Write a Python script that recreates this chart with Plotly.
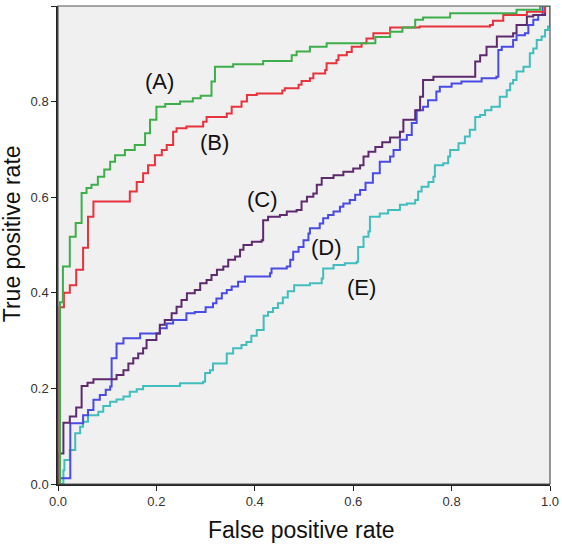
import plotly.graph_objects as go

# ROC curves: each point = (fpr where the step rises, tpr after the rise)
a_fpr = [0, 0.004, 0.010, 0.024, 0.036, 0.048, 0.058, 0.068, 0.081, 0.094, 0.106, 0.116, 0.136, 0.156, 0.177, 0.187, 0.200, 0.218, 0.248, 0.274, 0.290, 0.312, 0.319, 0.356, 0.417, 0.475, 0.485, 0.512, 0.546, 0.645, 0.675, 0.700, 0.726, 0.742, 0.797, 0.932, 0.980, 1.0]
a_tpr = [0, 0.380, 0.455, 0.517, 0.546, 0.609, 0.619, 0.626, 0.643, 0.658, 0.674, 0.688, 0.699, 0.709, 0.734, 0.762, 0.789, 0.795, 0.800, 0.807, 0.812, 0.842, 0.873, 0.878, 0.885, 0.897, 0.905, 0.915, 0.922, 0.935, 0.946, 0.955, 0.971, 0.976, 0.985, 0.992, 1.0, 1.0]

b_fpr = [0, 0.003, 0.012, 0.024, 0.037, 0.051, 0.061, 0.072, 0.146, 0.160, 0.173, 0.183, 0.197, 0.211, 0.221, 0.234, 0.241, 0.261, 0.295, 0.302, 0.343, 0.353, 0.373, 0.384, 0.404, 0.456, 0.461, 0.489, 0.495, 0.512, 0.519, 0.543, 0.546, 0.566, 0.570, 0.587, 0.597, 0.617, 0.627, 0.641, 0.675, 0.735, 0.878, 0.884, 0.905, 0.953, 0.990, 1.0]
b_tpr = [0, 0.370, 0.400, 0.416, 0.448, 0.494, 0.559, 0.591, 0.612, 0.632, 0.650, 0.667, 0.688, 0.699, 0.709, 0.737, 0.744, 0.748, 0.758, 0.768, 0.775, 0.789, 0.800, 0.814, 0.817, 0.823, 0.828, 0.835, 0.843, 0.849, 0.859, 0.866, 0.880, 0.887, 0.897, 0.904, 0.915, 0.922, 0.932, 0.943, 0.955, 0.957, 0.960, 0.969, 0.981, 0.988, 1.0, 1.0]

c_fpr = [0, 0.003, 0.011, 0.024, 0.037, 0.048, 0.060, 0.072, 0.119, 0.133, 0.143, 0.153, 0.163, 0.173, 0.180, 0.200, 0.207, 0.217, 0.231, 0.241, 0.251, 0.262, 0.278, 0.289, 0.302, 0.312, 0.323, 0.336, 0.346, 0.360, 0.370, 0.377, 0.394, 0.414, 0.417, 0.427, 0.451, 0.465, 0.485, 0.495, 0.506, 0.519, 0.526, 0.536, 0.560, 0.580, 0.600, 0.614, 0.621, 0.631, 0.645, 0.659, 0.675, 0.695, 0.702, 0.726, 0.736, 0.742, 0.763, 0.848, 0.858, 0.871, 0.892, 0.925, 0.932, 0.953, 0.966, 0.990, 1.0]
c_tpr = [0, 0.064, 0.128, 0.141, 0.160, 0.205, 0.212, 0.219, 0.228, 0.238, 0.252, 0.263, 0.273, 0.284, 0.301, 0.315, 0.333, 0.343, 0.357, 0.371, 0.385, 0.399, 0.406, 0.420, 0.427, 0.437, 0.448, 0.455, 0.469, 0.476, 0.490, 0.500, 0.507, 0.510, 0.552, 0.559, 0.563, 0.570, 0.573, 0.591, 0.601, 0.608, 0.626, 0.640, 0.646, 0.653, 0.660, 0.667, 0.685, 0.695, 0.705, 0.715, 0.725, 0.737, 0.762, 0.782, 0.810, 0.845, 0.852, 0.884, 0.897, 0.915, 0.936, 0.943, 0.960, 0.978, 0.981, 1.0, 1.0]

d_fpr = [0, 0.003, 0.025, 0.051, 0.061, 0.072, 0.085, 0.097, 0.106, 0.109, 0.119, 0.133, 0.167, 0.207, 0.221, 0.234, 0.261, 0.278, 0.300, 0.315, 0.322, 0.333, 0.343, 0.353, 0.366, 0.380, 0.431, 0.434, 0.465, 0.472, 0.478, 0.489, 0.499, 0.509, 0.512, 0.532, 0.539, 0.549, 0.560, 0.573, 0.580, 0.593, 0.604, 0.614, 0.625, 0.640, 0.654, 0.675, 0.682, 0.695, 0.709, 0.719, 0.729, 0.742, 0.752, 0.769, 0.776, 0.800, 0.820, 0.861, 0.891, 0.895, 0.902, 0.925, 0.932, 0.949, 0.956, 0.966, 0.976, 0.985, 1.0]
d_tpr = [0, 0.012, 0.127, 0.144, 0.155, 0.176, 0.186, 0.197, 0.204, 0.263, 0.294, 0.305, 0.315, 0.326, 0.336, 0.343, 0.357, 0.360, 0.370, 0.378, 0.388, 0.399, 0.406, 0.413, 0.423, 0.434, 0.441, 0.451, 0.455, 0.469, 0.486, 0.496, 0.510, 0.524, 0.535, 0.545, 0.556, 0.563, 0.570, 0.580, 0.587, 0.594, 0.605, 0.615, 0.630, 0.650, 0.674, 0.685, 0.699, 0.720, 0.730, 0.755, 0.782, 0.789, 0.803, 0.821, 0.831, 0.838, 0.842, 0.849, 0.852, 0.908, 0.915, 0.929, 0.939, 0.943, 0.960, 0.971, 0.981, 1.0, 1.0]

e_fpr = [0, 0.011, 0.013, 0.024, 0.035, 0.045, 0.051, 0.061, 0.082, 0.092, 0.106, 0.119, 0.133, 0.146, 0.160, 0.173, 0.248, 0.295, 0.299, 0.309, 0.315, 0.343, 0.356, 0.373, 0.383, 0.393, 0.404, 0.418, 0.427, 0.437, 0.447, 0.457, 0.467, 0.480, 0.512, 0.536, 0.539, 0.560, 0.583, 0.607, 0.610, 0.621, 0.631, 0.634, 0.654, 0.671, 0.695, 0.709, 0.726, 0.732, 0.739, 0.753, 0.763, 0.766, 0.783, 0.793, 0.797, 0.814, 0.827, 0.837, 0.848, 0.858, 0.868, 0.881, 0.898, 0.912, 0.919, 0.925, 0.932, 0.946, 0.959, 0.966, 0.973, 0.983, 0.990, 0.996, 1.0]
e_tpr = [0, 0.029, 0.050, 0.071, 0.106, 0.120, 0.130, 0.144, 0.151, 0.163, 0.172, 0.177, 0.183, 0.193, 0.198, 0.205, 0.211, 0.214, 0.232, 0.238, 0.252, 0.273, 0.284, 0.291, 0.297, 0.310, 0.322, 0.352, 0.360, 0.368, 0.378, 0.390, 0.403, 0.416, 0.420, 0.430, 0.451, 0.458, 0.462, 0.465, 0.496, 0.517, 0.528, 0.559, 0.566, 0.573, 0.584, 0.587, 0.594, 0.612, 0.622, 0.632, 0.643, 0.667, 0.671, 0.685, 0.699, 0.713, 0.727, 0.741, 0.768, 0.772, 0.782, 0.789, 0.810, 0.824, 0.838, 0.845, 0.863, 0.873, 0.901, 0.911, 0.929, 0.936, 0.950, 0.957, 1.0]

curve_labels = ["(A)", "(B)", "(C)", "(D)", "(E)"]
label_x = [0.207, 0.318, 0.415, 0.546, 0.616]
label_y = [0.843, 0.714, 0.595, 0.495, 0.412]
tick_vals = [0.0, 0.2, 0.4, 0.6, 0.8, 1.0]
tick_text = ["0.0", "0.2", "0.4", "0.6", "0.8", "1.0"]

colors = ["#3dae4a", "#e8333c", "#5e2a6e", "#4a4ae6", "#42bdbd"]
series = [(a_fpr, a_tpr), (b_fpr, b_tpr), (c_fpr, c_tpr), (d_fpr, d_tpr), (e_fpr, e_tpr)]

FONT = "Arial, Liberation Sans, sans-serif"

fig = go.Figure()
for i in [4, 3, 2, 1, 0]:
    xs, ys = series[i]
    fig.add_trace(go.Scatter(x=xs, y=ys, mode="lines", line=dict(color=colors[i], width=2, shape="hv"),
                             showlegend=False, hoverinfo="skip"))

for t, x, y in zip(curve_labels, label_x, label_y):
    fig.add_annotation(x=x, y=y, text=t, showarrow=False, xref="x", yref="y",
                       font=dict(family=FONT, size=22, color="#111"))

fig.add_annotation(text="False positive rate", xref="paper", yref="paper", x=0.495, y=-0.096,
                   showarrow=False, font=dict(family=FONT, size=23, color="#111"), yanchor="middle")
fig.add_annotation(text="True positive rate", xref="paper", yref="paper", x=-0.093, y=0.523,
                   showarrow=False, textangle=-90, font=dict(family=FONT, size=23, color="#111"),
                   xanchor="center", yanchor="middle")

fig.add_shape(type="rect", xref="paper", yref="paper", x0=0, y0=0, x1=1, y1=1,
              line=dict(color="#555", width=1.2), fillcolor="rgba(0,0,0,0)", layer="above")

axis_common = dict(range=[0, 1], tickvals=tick_vals, ticktext=tick_text, showgrid=False, zeroline=False,
                   showline=True, linecolor="#222", linewidth=1.5, ticks="outside", ticklen=5,
                   tickcolor="#222", tickwidth=1.2, automargin=False,
                   tickfont=dict(family=FONT, size=13, color="#333"))

fig.update_layout(
    width=562, height=547,
    margin=dict(l=58, r=12, t=6, b=63, autoexpand=False),
    paper_bgcolor="white", plot_bgcolor="#f0f0f0",
    xaxis=dict(**axis_common),
    yaxis=dict(**axis_common),
)
fig.write_html("out.html", config={"displayModeBar": False},
               post_script="document.body.style.margin='0';")
